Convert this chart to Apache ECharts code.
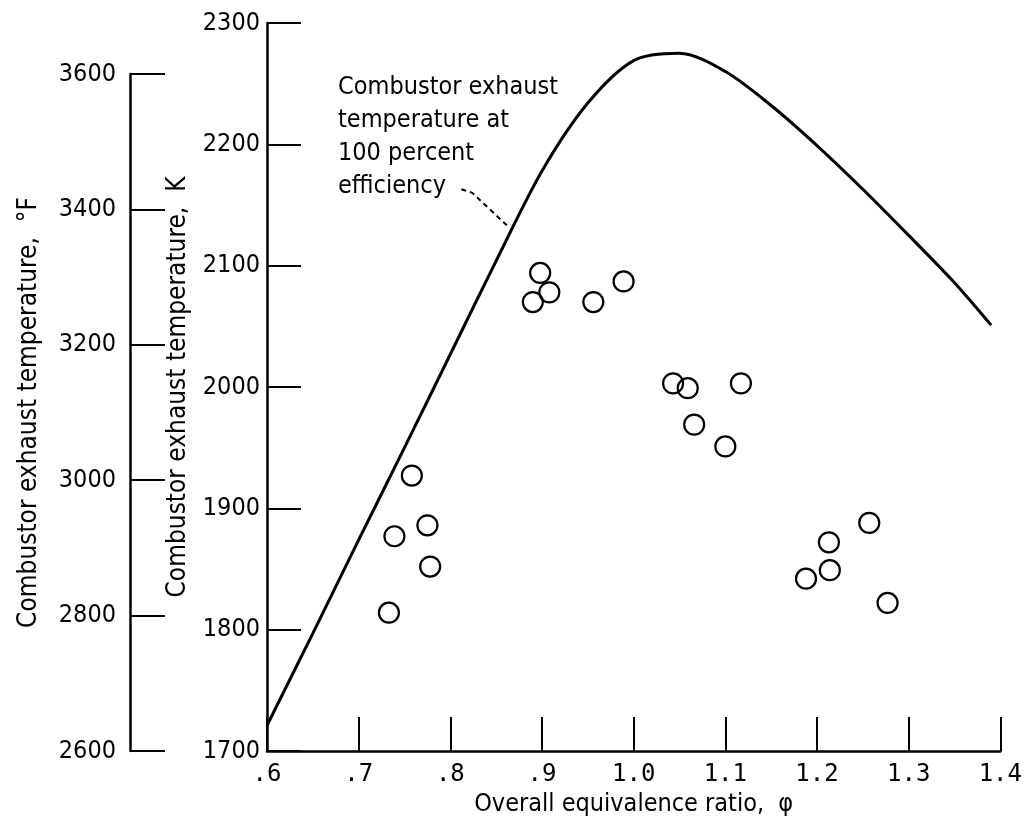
<!DOCTYPE html>
<html>
<head>
<meta charset="utf-8">
<script src="https://cdn.jsdelivr.net/npm/echarts@6/dist/echarts.min.js"></script>
<style>
  html, body { margin: 0; padding: 0; background: #fff; }
  #chart { width: 1025px; height: 824px; }
</style>
</head>
<body>
<div id="chart"></div>
<script>
// exhaust temperature at 100 percent efficiency
const curvePhi = [0.60, 0.65, 0.70, 0.75, 0.80, 0.85, 0.90, 0.95, 1.00, 1.05, 1.10, 1.15, 1.20, 1.25, 1.30, 1.35, 1.39];
const curveK = [1721, 1797, 1874, 1950, 2027, 2104, 2178, 2234, 2269, 2275, 2260, 2232, 2199, 2163, 2125, 2086, 2051];

// measured exhaust temperatures
const pointPhi = [0.733, 0.739, 0.758, 0.775, 0.778, 0.890, 0.898, 0.908, 0.956, 0.989, 1.043, 1.059, 1.066, 1.100, 1.117, 1.188, 1.213, 1.214, 1.257, 1.277];
const pointK = [1814, 1877, 1927, 1886, 1852, 2070, 2094, 2078, 2070, 2087, 2003, 1999, 1969, 1951, 2003, 1842, 1872, 1849, 1888, 1822];

// leader from the note to the curve
const leaderPhi = [0.812, 0.824, 0.862];
const leaderK = [2163, 2160, 2133];

const xTicks = ['.6', '.7', '.8', '.9', '1.0', '1.1', '1.2', '1.3', '1.4'];

const titleFont = "'DejaVu Sans Condensed', 'DejaVu Sans', sans-serif";
const numFont = "'Liberation Sans Narrow', 'DejaVu Sans Condensed', sans-serif";

const chart = echarts.init(document.getElementById('chart'));

chart.setOption({
  backgroundColor: '#fff',
  animation: false,
  grid: [
    { left: 267, right: 24, top: 23, bottom: 73 },
    { left: 130, width: 40, top: 74, bottom: 73 }
  ],
  xAxis: [
    {
      gridIndex: 0,
      type: 'value',
      min: 0.6, max: 1.4, interval: 0.1,
      name: 'Overall equivalence ratio,  φ',
      nameLocation: 'middle',
      nameGap: 38,
      nameTextStyle: { fontFamily: titleFont, fontSize: 25, color: '#000' },
      axisLine: { lineStyle: { color: '#000', width: 2.5 } },
      axisTick: { inside: true, length: 34, lineStyle: { color: '#000', width: 2 } },
      axisLabel: {
        margin: 12,
        fontFamily: "'DejaVu Sans Mono', monospace",
        fontSize: 24,
        color: '#000',
        formatter: v => xTicks[Math.round((v - 0.6) * 10)]
      },
      splitLine: { show: false }
    },
    { gridIndex: 1, type: 'value', show: false, min: 0, max: 1 }
  ],
  yAxis: [
    {
      gridIndex: 0,
      type: 'value',
      min: 1700, max: 2300, interval: 100,
      name: 'Combustor exhaust temperature,  K',
      nameLocation: 'middle',
      nameGap: 76,
      nameTextStyle: { fontFamily: titleFont, fontSize: 26, color: '#000' },
      axisLine: { show: true, lineStyle: { color: '#000', width: 2.5 } },
      axisTick: { show: true, inside: true, length: 34, lineStyle: { color: '#000', width: 2 } },
      axisLabel: { margin: 7, fontFamily: numFont, fontSize: 25, color: '#000', formatter: v => String(v) },
      splitLine: { show: false }
    },
    {
      gridIndex: 1,
      type: 'value',
      min: 2600, max: 3600, interval: 200,
      name: 'Combustor exhaust temperature,  °F',
      nameLocation: 'middle',
      nameGap: 88,
      nameTextStyle: { fontFamily: titleFont, fontSize: 26, color: '#000' },
      axisLine: { show: true, lineStyle: { color: '#000', width: 2.5 } },
      axisTick: { show: true, inside: true, length: 35, lineStyle: { color: '#000', width: 2 } },
      axisLabel: { margin: 14, fontFamily: numFont, fontSize: 25, color: '#000', formatter: v => String(v) },
      splitLine: { show: false }
    }
  ],
  graphic: [
    {
      type: 'text',
      left: 338,
      top: 71,
      style: {
        text: 'Combustor exhaust\ntemperature at\n100 percent\nefficiency',
        font: '25px ' + titleFont,
        lineHeight: 33,
        fill: '#000'
      }
    }
  ],
  series: [
    {
      type: 'line',
      xAxisIndex: 0, yAxisIndex: 0,
      data: curvePhi.map((p, i) => [p, curveK[i]]),
      smooth: 0.3,
      showSymbol: false,
      lineStyle: { color: '#000', width: 3 }
    },
    {
      type: 'line',
      xAxisIndex: 0, yAxisIndex: 0,
      data: leaderPhi.map((p, i) => [p, leaderK[i]]),
      showSymbol: false,
      lineStyle: { color: '#000', width: 2, type: [5, 4] }
    },
    {
      type: 'scatter',
      xAxisIndex: 0, yAxisIndex: 0,
      data: pointPhi.map((p, i) => [p, pointK[i]]),
      symbol: 'circle',
      symbolSize: 20,
      itemStyle: { color: 'rgba(0,0,0,0)', borderColor: '#000', borderWidth: 2.2, opacity: 1 }
    }
  ]
});
</script>
</body>
</html>
